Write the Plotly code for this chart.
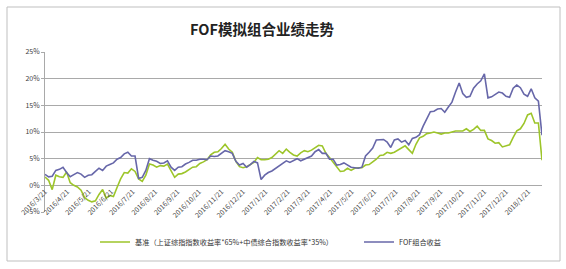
import pandas as pd
import plotly.graph_objects as go

# sampling dates (every 5 calendar days from start to end)
start_date = "2016-03-21"
n_points = 139
dates = pd.date_range(start_date, periods=n_points, freq="5D")

fof = [2.07, 1.6, 1.7, 2.8, 3.0, 3.4, 2.4, 1.6, 2.0, 2.4,
       2.1, 1.5, 1.9, 2.0, 2.6, 3.2, 2.8, 3.6, 3.9, 4.2,
       4.9, 5.2, 5.9, 6.2, 5.5, 5.5, 1.3, 1.5, 2.8, 5.0,
       4.7, 4.5, 4.1, 4.2, 4.6, 3.4, 2.8, 3.4, 3.5, 4.0,
       4.3, 4.7, 4.7, 4.9, 4.9, 4.8, 5.5, 5.4, 5.5, 6.0,
       6.5, 6.3, 6.0, 4.5, 3.8, 4.1, 3.4, 3.9, 4.5, 4.2,
       1.1, 1.9, 2.4, 2.7, 3.2, 3.7, 4.1, 4.6, 4.3, 4.6,
       5.0, 4.6, 4.9, 5.2, 5.5, 6.3, 6.7, 6.0, 6.0, 4.9,
       4.9, 3.8, 3.9, 4.2, 3.8, 3.4, 3.3, 3.2, 3.4, 5.5,
       6.2, 7.0, 8.5, 8.5, 8.6, 8.1, 7.1, 8.5, 8.7, 8.1,
       8.4, 7.6, 8.8, 9.0, 9.5, 11.1, 12.6, 13.8, 13.9, 14.3,
       14.4, 13.7, 14.7, 15.6, 17.5, 19.2, 17.2, 16.5, 16.7, 18.2,
       19.0, 19.6, 20.9, 16.4, 16.6, 17.1, 17.5, 17.3, 16.7, 16.5,
       18.2, 18.8, 18.3, 17.1, 16.7, 18.1, 16.4, 15.8, 9.4]

bench = [1.56, 0.94, -0.8, 1.9, 1.6, 1.5, 2.5, 0.5, 0.0, -0.3,
         -0.9, -2.3, -2.8, -3.1, -2.9, -1.7, -0.8, -2.4, -1.9, -2.1,
         -0.4, 1.2, 2.4, 2.3, 3.1, 2.6, 1.2, 0.75, 1.9, 4.0,
         3.8, 3.4, 3.7, 3.6, 4.0, 2.6, 1.5, 2.1, 2.2, 2.5,
         3.0, 3.4, 3.5, 4.1, 4.4, 4.8, 5.7, 6.2, 6.3, 6.9,
         7.7, 6.8, 6.2, 4.5, 3.5, 3.3, 3.5, 3.9, 4.3, 5.2,
         4.8, 4.8, 4.9, 5.2, 5.8, 6.5, 6.0, 6.8, 6.2, 5.7,
         5.5, 6.1, 6.5, 6.3, 6.6, 7.0, 7.5, 7.4, 6.0, 5.2,
         4.3, 3.5, 2.6, 2.7, 3.2, 2.8, 3.2, 3.3, 3.3, 3.8,
         3.9, 4.4, 4.9, 5.6, 5.7, 6.2, 6.0, 6.2, 6.6, 7.0,
         7.4, 6.7, 6.0, 7.7, 8.9, 9.2, 9.7, 9.8, 10.0, 9.8,
         9.6, 9.8, 9.8, 10.0, 10.2, 10.2, 10.2, 10.6, 10.1, 10.5,
         11.1, 10.3, 10.3, 8.7, 8.4, 7.9, 8.0, 7.2, 7.4, 7.6,
         9.0, 10.2, 10.6, 11.6, 13.2, 13.5, 11.7, 11.7, 4.7]

bench_name = "基准（上证综指指数收益率*65%+中债综合指数收益率*35%）"
fof_name = "FOF组合收益"
title_text = "FOF模拟组合业绩走势"

x_tick_dates = ["2016-03-21", "2016-04-21", "2016-05-21", "2016-06-21", "2016-07-21",
                "2016-08-21", "2016-09-21", "2016-10-21", "2016-11-21", "2016-12-21",
                "2017-01-21", "2017-02-21", "2017-03-21", "2017-04-21", "2017-05-21",
                "2017-06-21", "2017-07-21", "2017-08-21", "2017-09-21", "2017-10-21",
                "2017-11-21", "2017-12-21", "2018-01-21"]
x_tick_text = ["2016/3/21", "2016/4/21", "2016/5/21", "2016/6/21", "2016/7/21",
               "2016/8/21", "2016/9/21", "2016/10/21", "2016/11/21", "2016/12/21",
               "2017/1/21", "2017/2/21", "2017/3/21", "2017/4/21", "2017/5/21",
               "2017/6/21", "2017/7/21", "2017/8/21", "2017/9/21", "2017/10/21",
               "2017/11/21", "2017/12/21", "2018/1/21"]
y_tick_vals = [-5, 0, 5, 10, 15, 20, 25]
y_tick_text = ["-5%", "0%", "5%", "10%", "15%", "20%", "25%"]

FONT = "Noto Sans CJK SC, DejaVu Sans, sans-serif"
GREEN = "#9DC52A"
BLUE = "#6767A9"
GRID = "#A9A9A9"

fig = go.Figure()
fig.add_trace(go.Scatter(x=dates, y=bench, mode="lines", name=bench_name,
                         line=dict(color=GREEN, width=1.6), legend="legend"))
fig.add_trace(go.Scatter(x=dates, y=fof, mode="lines", name=fof_name,
                         line=dict(color=BLUE, width=1.6), legend="legend2"))

legend_common = dict(orientation="h", xref="container", yref="container",
                     y=1 - 242 / 269, xanchor="left", yanchor="middle",
                     font=dict(family=FONT, size=7.2, color="#333333"),
                     bgcolor="rgba(0,0,0,0)", itemwidth=30)

fig.update_layout(
    width=566, height=269,
    margin=dict(l=45, r=24, t=52, b=57),
    paper_bgcolor="white", plot_bgcolor="white",
    font=dict(family=FONT, size=7, color="#404040"),
    title=dict(text=title_text, x=262 / 566, xref="container", xanchor="center",
               y=1 - 30 / 269, yref="container", yanchor="middle",
               font=dict(family=FONT, size=14.5, color="#222222", weight="bold")),
    showlegend=True,
    legend=dict(x=95 / 566, **legend_common),
    legend2=dict(x=359 / 566, **legend_common),
    xaxis=dict(type="date", range=["2016-03-21", "2018-02-09"],
               anchor="free", position=5 / 30,
               tickmode="array", tickvals=x_tick_dates, ticktext=x_tick_text,
               tickangle=-45, showgrid=False, showline=False, zeroline=False,
               ticks="", tickfont=dict(size=7, color="#404040"), automargin=False),
    yaxis=dict(range=[-5, 25], tickmode="array", tickvals=y_tick_vals, ticktext=y_tick_text,
               showgrid=True, gridcolor=GRID, gridwidth=1, zeroline=False,
               showline=True, linecolor=GRID, linewidth=1, ticks="outside",
               ticklen=3, tickcolor=GRID, tickfont=dict(size=7, color="#404040"),
               automargin=False),
    shapes=[dict(type="rect", xref="paper", yref="paper",
                 x0=(7 - 45) / 497, x1=(560 - 45) / 497,
                 y0=(212 - 261) / 160, y1=(212 - 7) / 160,
                 line=dict(color="#BFBFBF", width=1), fillcolor="rgba(0,0,0,0)",
                 layer="below")],
)

fig.write_html("out.html")
